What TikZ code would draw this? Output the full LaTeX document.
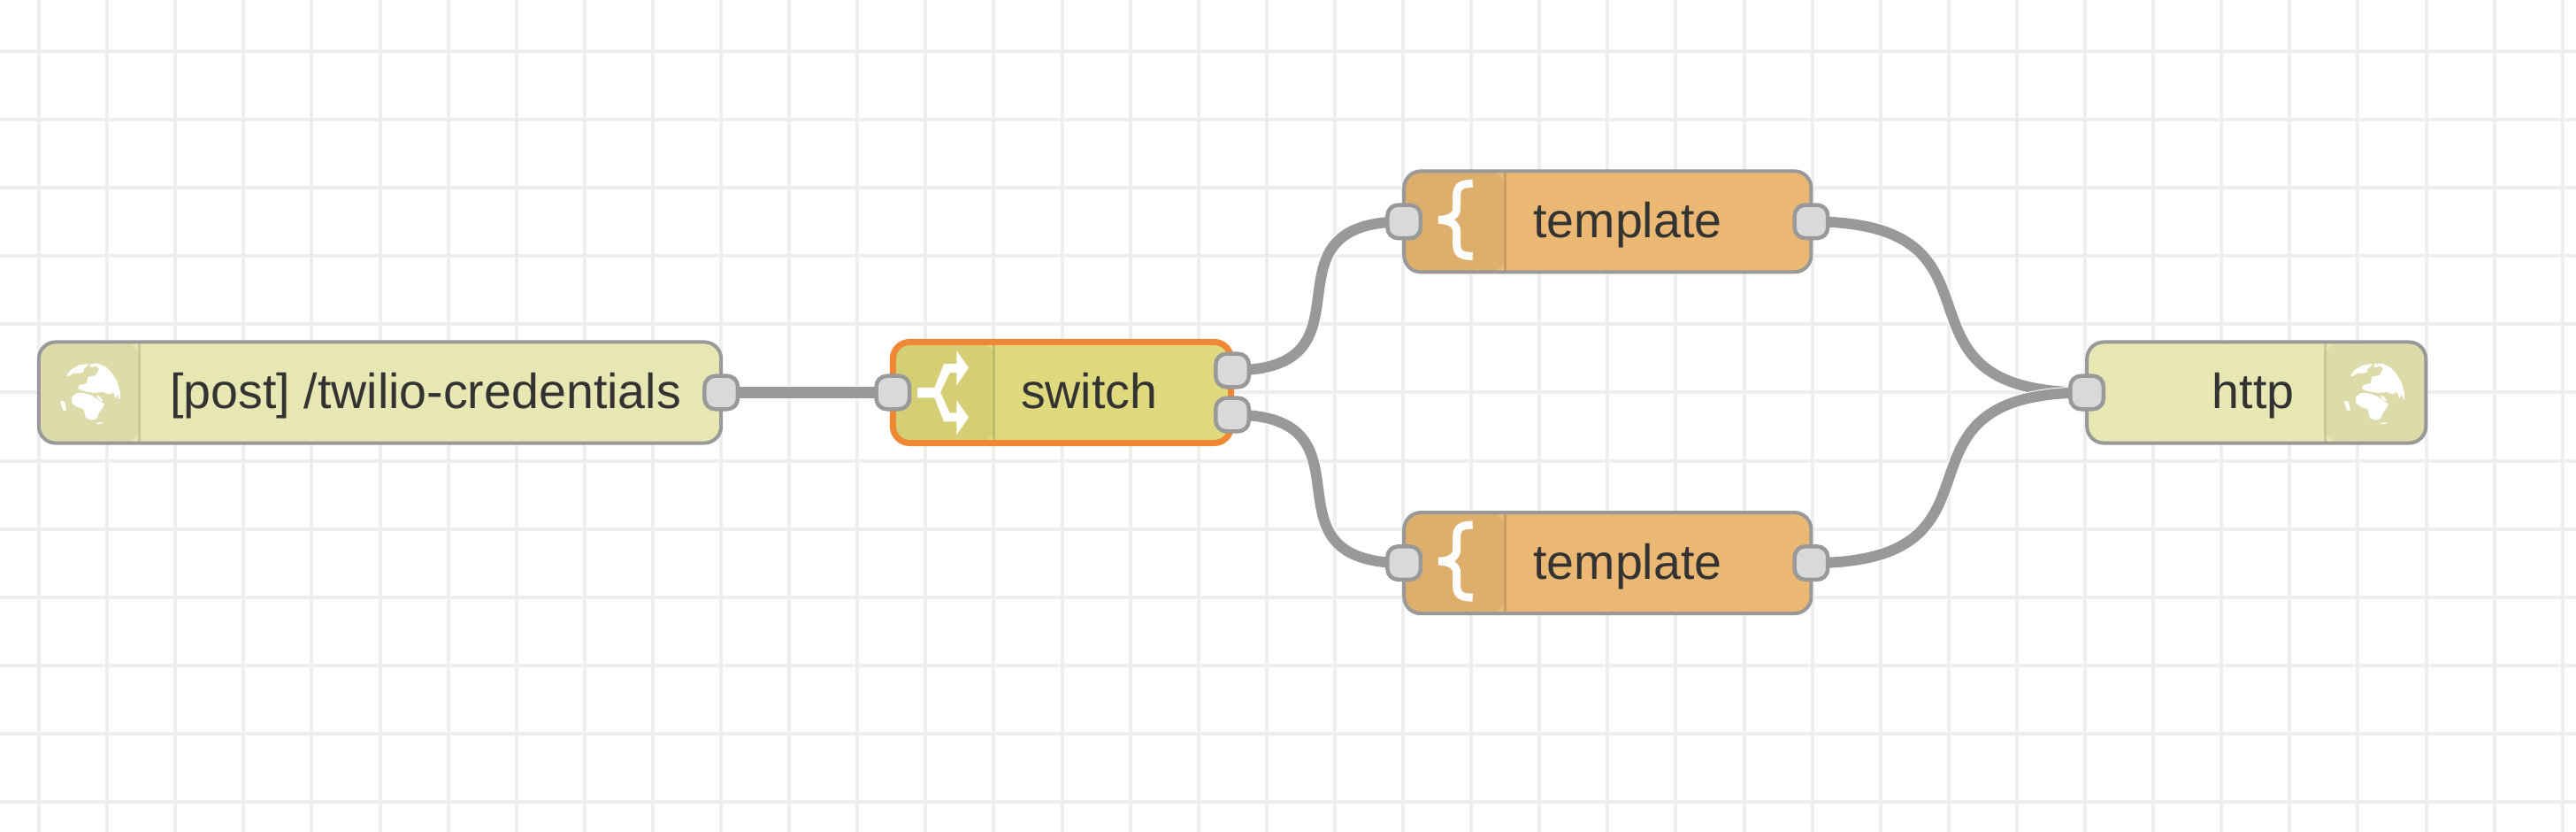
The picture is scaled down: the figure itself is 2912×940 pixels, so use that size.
\documentclass[tikz,border=0pt]{standalone}
\usepackage{xcolor}
\usepackage{fontspec}
\setmainfont{Liberation Sans}
\usepackage{tikz}
\usetikzlibrary{positioning, backgrounds}

\definecolor{gridcol}{HTML}{EEEEEE}
\definecolor{edgecol}{HTML}{999999}
\definecolor{portcol}{HTML}{D9D9D9}
\definecolor{textcol}{HTML}{333333}
\definecolor{httpcol}{HTML}{E7E7B3}
\definecolor{httpicon}{HTML}{DCDBA9}
\definecolor{httpline}{HTML}{C8C898}
\definecolor{switchcol}{HTML}{DFD97E}
\definecolor{switchicon}{HTML}{D4CE75}
\definecolor{switchline}{HTML}{BFBA6E}
\definecolor{templatecol}{HTML}{EBB873}
\definecolor{templateicon}{HTML}{DEAE6D}
\definecolor{templateline}{HTML}{C89C63}
\definecolor{pickedcol}{HTML}{F08735}

\tikzset{
  nodebox/.style={rectangle, draw=edgecol, line width=0.04cm, rounded corners=0.19cm, outer sep=0pt, inner sep=0pt, minimum height=1.14cm},
  picked/.style={draw=pickedcol, line width=0.07cm},
  iconleft/.style n args={3}{path picture={
    \fill[#2] (path picture bounding box.north west) rectangle ([xshift=#1]path picture bounding box.south west);
    \draw[#3, line width=0.03cm] ([xshift=#1]path picture bounding box.north west) -- ([xshift=#1]path picture bounding box.south west);}},
  iconright/.style n args={3}{path picture={
    \fill[#2] (path picture bounding box.north east) rectangle ([xshift=-#1]path picture bounding box.south east);
    \draw[#3, line width=0.03cm] ([xshift=-#1]path picture bounding box.north east) -- ([xshift=-#1]path picture bounding box.south east);}},
  portbox/.style={rectangle, draw=edgecol, fill=portcol, line width=0.045cm, rounded corners=0.12cm, outer sep=0pt, inner sep=0pt, minimum size=0.375cm},
  nodelabel/.style={anchor=base west, inner sep=0pt, text=textcol, font=\fontsize{15.8}{18}\selectfont},
  wire/.style={draw=white, line width=0.01cm, double=edgecol, double distance=0.12cm},
  globe/.pic={
    \begin{scope}[x=0.00333cm, y=-0.00333cm, shift={(-125,-125)}, rounded corners=0.01cm, every path/.append style={draw=white, line width=0.006cm}]
      \fill[white] (46,68) -- (62,48) -- (88,33) -- (120,28) -- (112,38) -- (100,47) -- (105,55) -- (82,60) -- (70,57) -- (55,68) -- cycle;
      \fill[white] (125,30) -- (150,27) -- (178,38) -- (200,60) -- (218,90) -- (228,125) -- (227,150) -- (220,128) -- (213,145) -- (205,122) -- (190,130) -- (170,122) -- (140,125) -- (115,122) -- (85,112) -- (90,100) -- (115,95) -- (120,72) -- (145,68) -- (158,45) -- (148,33) -- (128,40) -- cycle;
      \fill[white] (65,140) -- (80,128) -- (105,128) -- (130,135) -- (145,145) -- (170,162) -- (175,165) -- (165,180) -- (155,195) -- (148,213) -- (130,218) -- (112,210) -- (105,180) -- (80,172) -- (65,160) -- cycle;
      \fill[white] (148,135) -- (160,140) -- (170,155) -- (155,148) -- cycle;
      \fill[white] (25,155) -- (38,155) -- (45,185) -- (35,185) -- cycle;
      \fill[white] (145,230) -- (170,226) -- (160,232) -- cycle;
    \end{scope}},
  forkicon/.pic={
    \fill[white] (-29.3,-5.7) -- (-10,-5.7) -- (.7,-32.3) -- (15,-32.3) -- (15,-47.3) -- (28.7,-28) -- (15,-8) -- (15,-22.3) -- (7.3,-22.3) -- (-3.3,-.3) -- (7.3,23) -- (15,23) -- (15,8.7) -- (28.7,28) -- (15,47.7) -- (15,33) -- (.7,33) -- (-10,6) -- (-29.3,6) -- cycle;},
  braceicon/.pic={
    \draw[white, line width=0.09cm, line join=bevel] (21,-41) .. controls (8,-41) and (3,-38) .. (3,-27) -- (3,-13) .. controls (3,-5) and (-5,0) .. (-17.5,0) .. controls (-5,0) and (3,5) .. (3,13) -- (3,27) .. controls (3,38) and (8,41) .. (21,41);}
}

\begin{document}
\begin{tikzpicture}[x=0.01cm, y=-0.01cm]
  \useasboundingbox (0,0) rectangle (2912,940);
  % grid
  \begin{scope}[on background layer]
    \fill[white] (0,0) rectangle (2912,940);
    \foreach \i in {0,...,37}
      \draw[gridcol, line width=0.04cm] ({44+77.1*\i},0) -- ({44+77.1*\i},940);
    \foreach \j in {0,...,11}
      \draw[gridcol, line width=0.04cm] (0,{58+77.1*\j}) -- (2912,{58+77.1*\j});
  \end{scope}

  % bodies
  \node (inject) [nodebox, fill=httpcol, minimum width=7.71cm, iconleft={1.14cm}{httpicon}{httpline}] at (429.5,443.5) {};
  \node (switch) [nodebox, picked, fill=switchcol, minimum width=3.82cm, right=1.94cm of inject, iconleft={1.14cm}{switchicon}{switchline}] {};
  \node (templateA) [nodebox, fill=templatecol, minimum width=4.6cm, right=1.955cm of switch, yshift=1.93cm, iconleft={1.14cm}{templateicon}{templateline}] {};
  \node (templateB) [nodebox, fill=templatecol, minimum width=4.6cm, right=1.955cm of switch, yshift=-1.925cm, iconleft={1.14cm}{templateicon}{templateline}] {};
  \node (http) [nodebox, fill=httpcol, minimum width=3.83cm, right=9.67cm of switch, iconright={1.14cm}{httpicon}{httpline}] {};

  % icons
  \pic at ([xshift=0.577cm]inject.west) {globe};
  \pic at ([xshift=0.57cm]switch.west) {forkicon};
  \pic at ([shift={(56.5,-2)}]templateA.west) {braceicon};
  \pic at ([shift={(56.5,-2)}]templateB.west) {braceicon};
  \pic at ([xshift=-0.59cm]http.east) {globe};

  % labels
  \node (injecttext) [nodelabel] at ([shift={(148,18)}]inject.west) {[post] /twilio-credentials};
  \node (switchtext) [nodelabel] at ([shift={(144,18)}]switch.west) {switch};
  \node (templateAtext) [nodelabel] at ([shift={(145.5,18)}]templateA.west) {template};
  \node (templateBtext) [nodelabel] at ([shift={(145.5,18)}]templateB.west) {template};
  \node (httptext) [nodelabel] at ([shift={(141,18)}]http.west) {http};

  % ports
  \node (injectout) [portbox] at (inject.east) {};
  \node (switchin) [portbox] at (switch.west) {};
  \node (switchoutA) [portbox] at ([shift={(1.5,-25)}]switch.east) {};
  \node (switchoutB) [portbox] at ([shift={(1.5,25)}]switch.east) {};
  \node (templateAin) [portbox] at (templateA.west) {};
  \node (templateAout) [portbox] at (templateA.east) {};
  \node (templateBin) [portbox] at (templateB.west) {};
  \node (templateBout) [portbox] at (templateB.east) {};
  \node (httpin) [portbox] at (http.west) {};

  % wires
  \begin{scope}[on background layer]
    \draw[wire] (injectout.center) -- (switchin.center);
    \draw[wire] (switchoutA.center) .. controls +(172,0) and +(-172,0) .. (templateAin.center);
    \draw[wire] (switchoutB.center) .. controls +(172,0) and +(-172,0) .. (templateBin.center);
    \draw[wire] (templateAout.center) .. controls +(245,0) and +(-245,0) .. (httpin.center);
    \draw[wire] (templateBout.center) .. controls +(245,0) and +(-245,0) .. (httpin.center);
  \end{scope}
\end{tikzpicture}
\end{document}
